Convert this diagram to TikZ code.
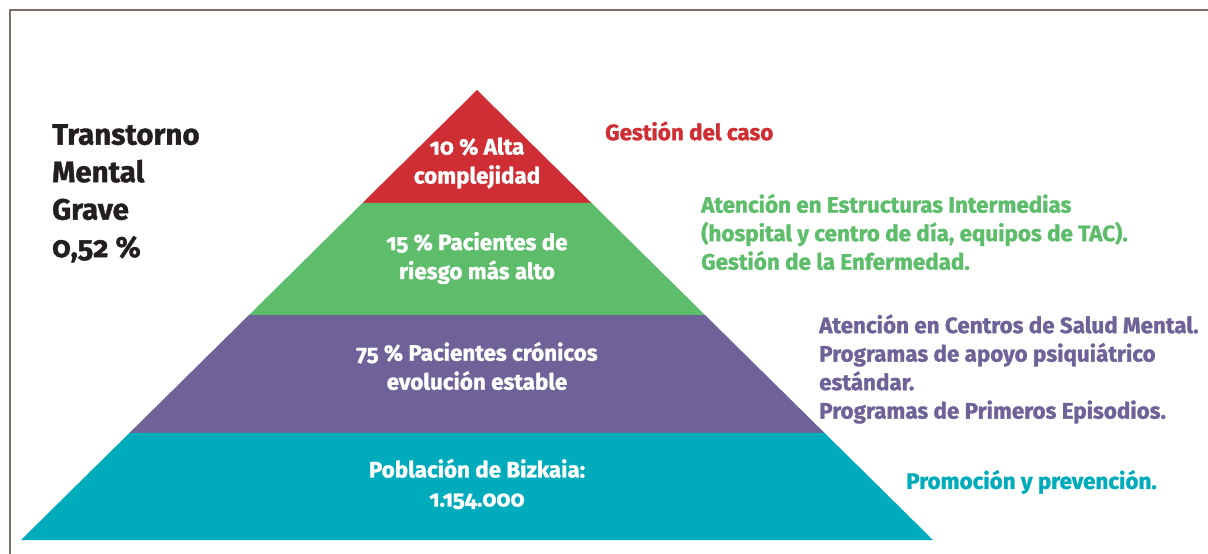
\documentclass[tikz,border=0pt]{standalone}
\usepackage{fontspec}
\setmainfont{Fira Sans}[Numbers=OldStyle, BoldFeatures={FakeBold=1.2}]
\usetikzlibrary{calc}
\definecolor{cred}{HTML}{CF2E34}
\definecolor{cgreen}{HTML}{5DBD6B}
\definecolor{cpurple}{HTML}{6F6298}
\definecolor{cteal}{HTML}{00ACBC}
\definecolor{cframe}{HTML}{7B6F67}
\definecolor{cdark}{HTML}{231F20}
\tikzset{
  band/.style={draw=none},
  intext/.style={text=white, font=\bfseries\fontsize{22.4}{29}\selectfont, align=center, inner sep=0pt},
  sidetext/.style={font=\bfseries\fontsize{22.4}{28.5}\selectfont, align=left, anchor=west, inner sep=0pt},
  frameline/.style={draw=cframe, line width=1.6pt}
}
\begin{document}
\begin{tikzpicture}[x=1pt,y=-1pt]
\useasboundingbox (0,0) rectangle (1208,554);
% frame
\coordinate (f0) at (10,10);
\coordinate (f1) at (1208,10);
\coordinate (f2) at (10,554);
\draw[frameline] (f2) -- (f0) -- (f1);
% pyramid
\coordinate (A) at (477,90);
\coordinate (L) at (21,540);
\coordinate (R) at (933,540);
\coordinate (l1) at ($(A)!0.2511!(L)$);
\coordinate (r1) at ($(A)!0.2511!(R)$);
\coordinate (l2) at ($(A)!0.5!(L)$);
\coordinate (r2) at ($(A)!0.5!(R)$);
\coordinate (l3) at ($(A)!0.7622!(L)$);
\coordinate (r3) at ($(A)!0.7622!(R)$);
\fill[cred] (A) -- (l1) -- (r1) -- cycle;
\fill[cgreen] (l1) -- (l2) -- (r2) -- (r1) -- cycle;
\fill[cpurple] (l2) -- (l3) -- (r3) -- (r2) -- cycle;
\fill[cteal] (l3) -- (L) -- (R) -- (r3) -- cycle;
% labels inside
\node[intext] (t1) at (477,163) {10 \% Alta\\complejidad};
\node[intext] (t2) at (477,258) {15 \% Pacientes de\\riesgo más alto};
\node[intext] (t3) at (477,366) {75 \% Pacientes crónicos\\evolución estable};
\node[intext] (t4) at (477,484) {Población de Bizkaia:\\1.154.000};
% left title
\node[font=\bfseries\fontsize{29.5}{37.5}\selectfont, text=cdark, align=left, anchor=north west, inner sep=0pt] (title) at (52,124) {Transtorno\\Mental\\Grave\\0,52 \%};
% side texts
\node[sidetext, text=cred] (s1) at (605,131) {Gestión del caso};
\node[sidetext, text=cgreen] (s2) at (701,232) {Atención en Estructuras Intermedias\\(hospital y centro de día, equipos de TAC).\\Gestión de la Enfermedad.};
\node[sidetext, text=cpurple] (s3) at (819,369) {Atención en Centros de Salud Mental.\\Programas de apoyo psiquiátrico\\estándar.\\Programas de Primeros Episodios.};
\node[sidetext, text=cteal] (s4) at (906,482) {Promoción y prevención.};
\end{tikzpicture}
\end{document}
